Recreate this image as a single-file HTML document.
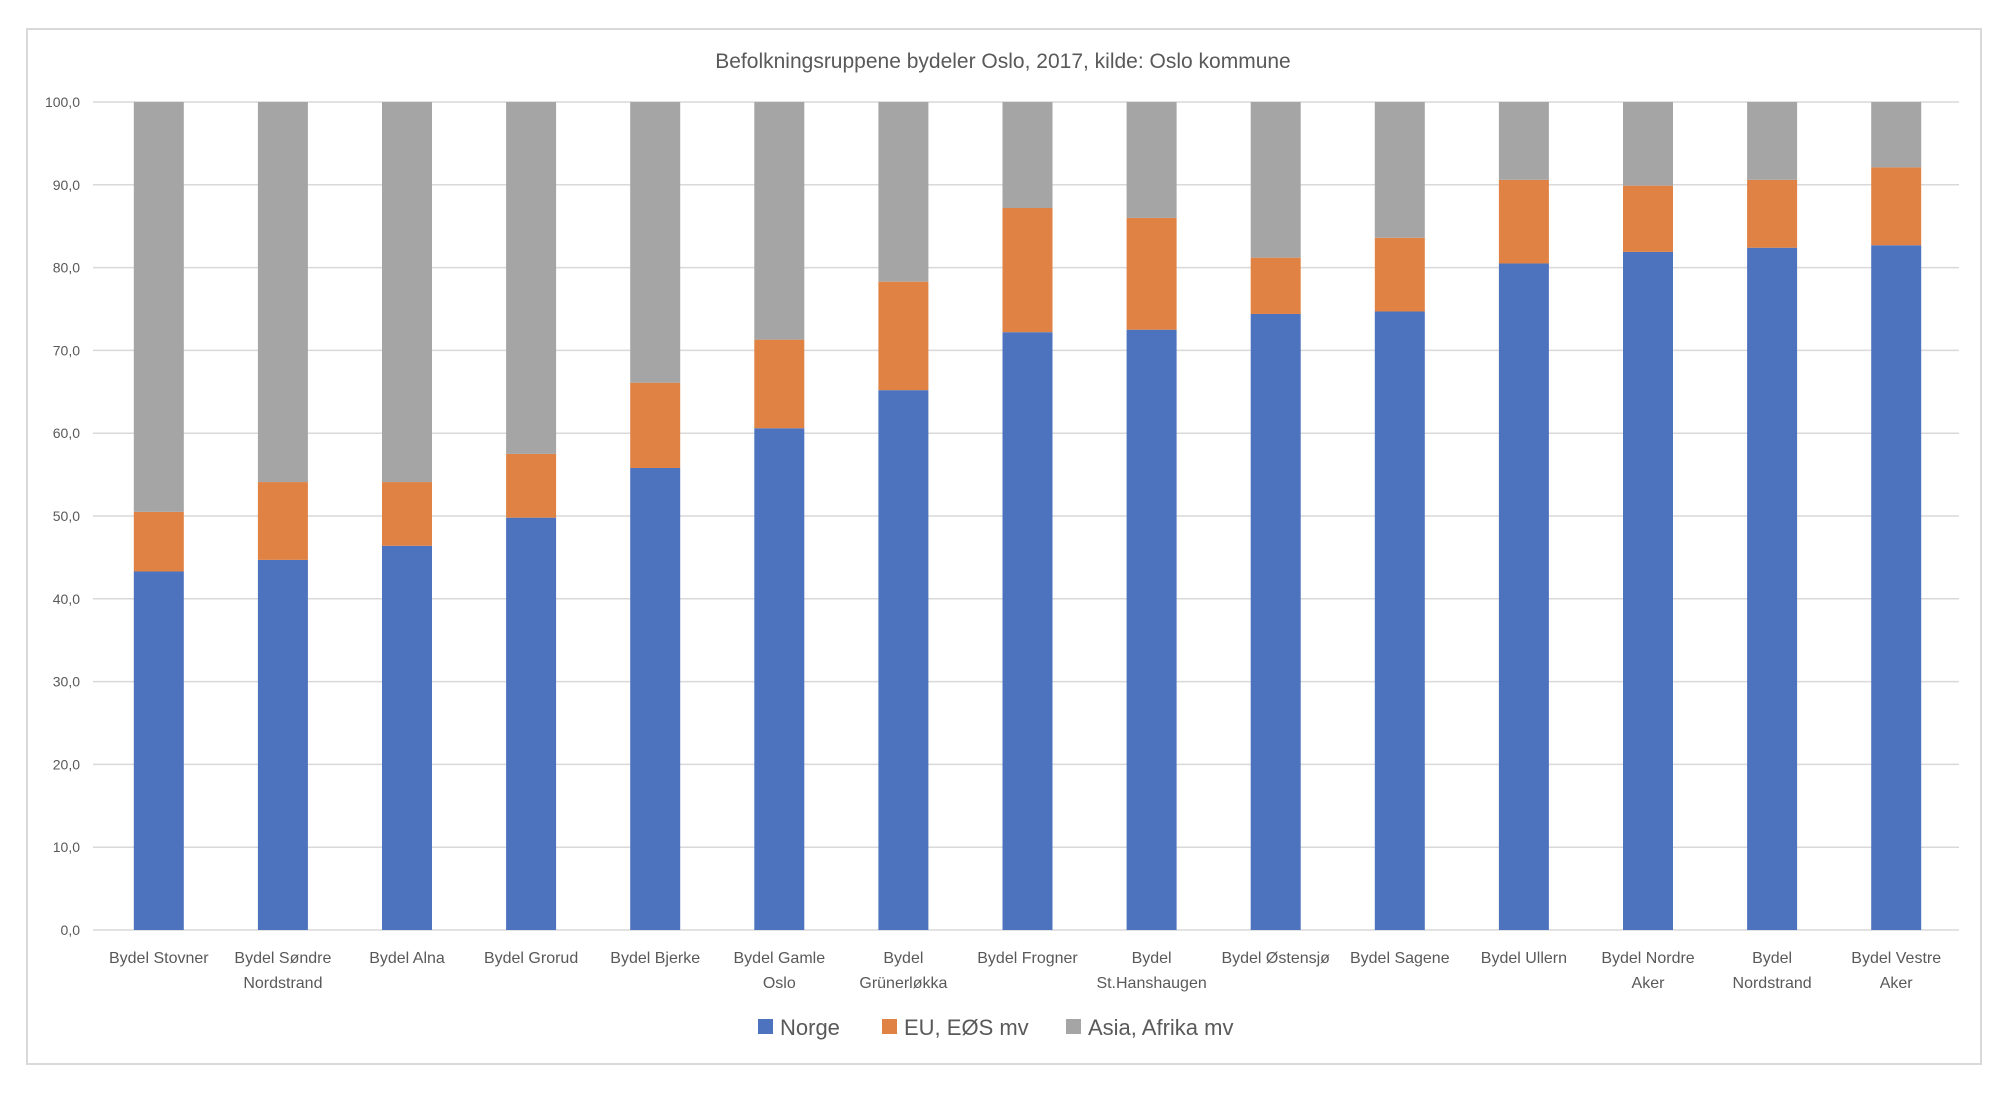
<!DOCTYPE html>
<html><head><meta charset="utf-8"><style>
html,body{margin:0;padding:0;background:#fff;}
svg{display:block;font-family:"Liberation Sans",sans-serif;}
</style></head><body>
<svg id="chart" width="2000" height="1096">
<rect x="27" y="29" width="1954" height="1035" fill="#fff" stroke="#d9d9d9" stroke-width="2"/>
<text x="1003" y="68" text-anchor="middle" font-size="21" fill="#595959">Befolkningsruppene bydeler Oslo, 2017, kilde: Oslo kommune</text>
<g id="grid"></g><g id="bars"></g><g id="xlabels"></g>
<g>
<rect x="758" y="1019" width="15" height="15" fill="#4e73be"/>
<text x="780" y="1035" font-size="22" fill="#595959">Norge</text>
<rect x="882" y="1019" width="15" height="15" fill="#df8244"/>
<text x="904" y="1035" font-size="22" fill="#595959">EU, EØS mv</text>
<rect x="1066" y="1019" width="15" height="15" fill="#a5a5a5"/>
<text x="1088" y="1035" font-size="22" fill="#595959">Asia, Afrika mv</text>
</g>
</svg>
<script>
const categories = [["Bydel Stovner"],["Bydel Søndre","Nordstrand"],["Bydel Alna"],["Bydel Grorud"],["Bydel Bjerke"],["Bydel Gamle","Oslo"],["Bydel","Grünerløkka"],["Bydel Frogner"],["Bydel","St.Hanshaugen"],["Bydel Østensjø"],["Bydel Sagene"],["Bydel Ullern"],["Bydel Nordre","Aker"],["Bydel","Nordstrand"],["Bydel Vestre","Aker"]];
const norge = [43.3,44.7,46.4,49.8,55.8,60.6,65.2,72.2,72.5,74.4,74.7,80.5,81.9,82.4,82.7];
const eu = [7.2,9.4,7.7,7.7,10.3,10.7,13.1,15.0,13.5,6.8,8.9,10.1,8.0,8.2,9.4];
const asia = [49.5,45.9,45.9,42.5,33.9,28.7,21.7,12.8,14.0,18.8,16.4,9.4,10.1,9.4,7.9];
const yTicks = [0,10,20,30,40,50,60,70,80,90,100];
const NS="http://www.w3.org/2000/svg";
const L=93,R=1959,T=102,B=930,yMax=100;
const y=v=>B-(v/yMax)*(B-T);
const firstC=158.8, step=124.1;
const xc=i=>firstC+step*i;
const bw=50;
function mk(tag,attrs,parent){const e=document.createElementNS(NS,tag);for(const k in attrs)e.setAttribute(k,attrs[k]);parent.appendChild(e);return e;}
const grid=document.getElementById('grid');
yTicks.forEach(t=>{
  const ln=mk('line',{x1:L,x2:R,y1:y(t),y2:y(t),stroke:'#d9d9d9','stroke-width':1.5},grid);
  
  
  const tx=mk('text',{x:80,y:y(t)+5,'text-anchor':'end','font-size':14,fill:'#595959'},grid);
  tx.textContent=t.toFixed(1).replace('.',',');
  
  
});
const bars=document.getElementById('bars');
const series=[[norge,'#4e73be','norge'],[eu,'#df8244','eu'],[asia,'#a5a5a5','asia']];
categories.forEach((c,i)=>{
  let base=0;
  series.forEach(([arr,col,nm])=>{
    const v=arr[i];
    const r=mk('rect',{x:xc(i)-bw/2,y:y(base+v),width:bw,height:y(base)-y(base+v),fill:col},bars);
    
    
    base+=v;
  });
});
const xl=document.getElementById('xlabels');
categories.forEach((c,i)=>{
  const t=mk('text',{x:xc(i),y:963,'text-anchor':'middle','font-size':16,fill:'#595959'},xl);
  
  
  c.forEach((line,j)=>{const s=mk('tspan',{x:xc(i),dy:j?25:0},t);s.textContent=line;});
});
</script>
</body></html>
